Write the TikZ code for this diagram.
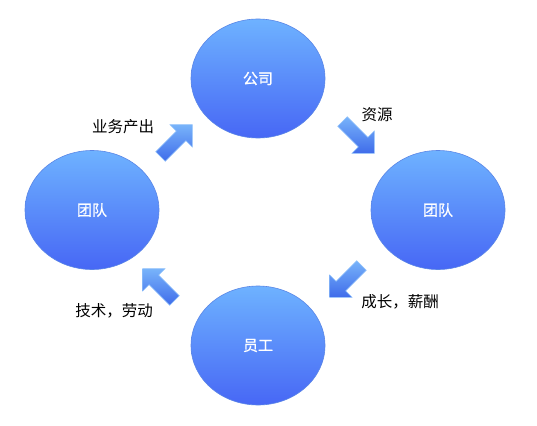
\documentclass[tikz,border=0pt]{standalone}
\usepackage{fontspec}
\setmainfont{Noto Sans CJK SC}
\newfontfamily\blobfont[FakeBold=1]{Noto Sans CJK SC}
\usetikzlibrary{shapes.geometric,shapes.arrows}
\definecolor{blobtop}{HTML}{6EB2FF}
\definecolor{blobbot}{HTML}{4767F5}
\definecolor{blobedge}{HTML}{5A86E6}
\definecolor{arrtop}{HTML}{78B4FA}
\definecolor{arrbot}{HTML}{3F6BEA}
\begin{document}
\begin{tikzpicture}[x=1pt,y=-1pt,
  blob/.style={ellipse, minimum width=134pt, minimum height=119pt, inner sep=0pt,
    draw=blobedge, line width=0.6pt, top color=blobtop, bottom color=blobbot,
    text=white, font=\blobfont\fontsize{15}{17}\selectfont},
  barrow/.style={single arrow, minimum height=45pt, minimum width=31pt,
    inner sep=6.5pt, single arrow head extend=9pt, single arrow tip angle=90,
    draw=arrtop!80!white, line width=0.5pt, top color=arrtop, bottom color=arrbot},
  lab/.style={font=\fontsize{15.5}{18}\selectfont, text=black}]
\useasboundingbox (0,0) rectangle (537,425);
\node[blob] (gs) at (258,78.5) {公司};
\node[blob] (tr) at (438,210) {团队};
\node[blob] (tl) at (92,210) {团队};
\node[blob] (yg) at (258,345.5) {员工};
\node[barrow, rotate=45] (a1) at (174,143) {};
\node[barrow, rotate=-45] (a2) at (356,135) {};
\node[barrow, rotate=-135] (a3) at (348,279) {};
\node[barrow, rotate=135] (a4) at (161,287) {};
\node[lab] (l1) at (123,127) {业务产出};
\node[lab] (l2) at (377,115) {资源};
\node[lab] (l3) at (400,302) {成长，薪酬};
\node[lab] (l4) at (114,311) {技术，劳动};
\end{tikzpicture}
\end{document}
